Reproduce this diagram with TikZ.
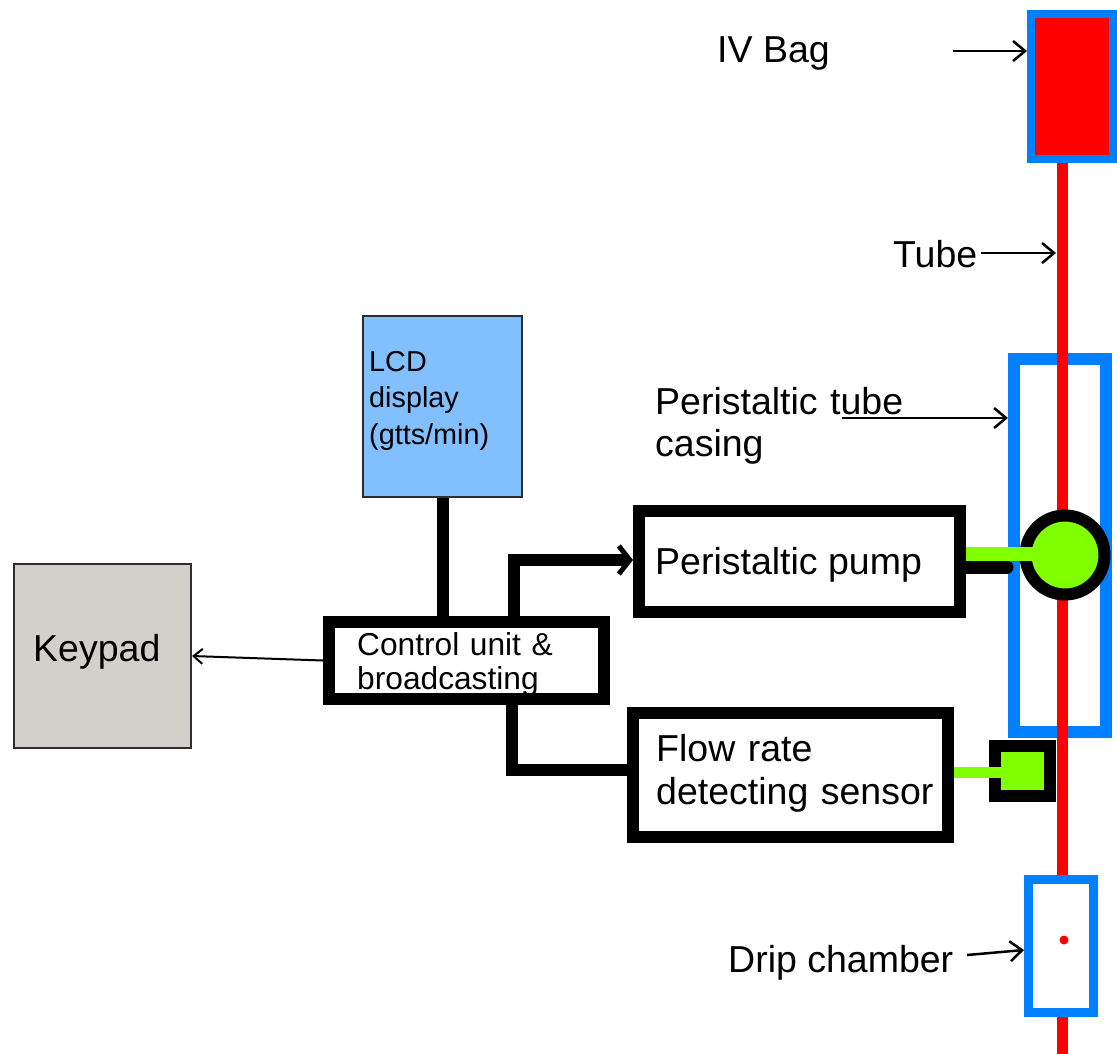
\documentclass[tikz,border=0pt]{standalone}
\usepackage{fontspec}
\setmainfont{Liberation Sans}
\usetikzlibrary{arrows.meta}
\definecolor{bblue}{RGB}{0,128,255}
\definecolor{rred}{RGB}{255,0,0}
\definecolor{ggreen}{RGB}{128,255,0}
\definecolor{lcdblue}{RGB}{130,191,255}
\definecolor{keygray}{RGB}{211,208,203}
\definecolor{edgegray}{RGB}{45,45,45}
\begin{document}
\begin{tikzpicture}[x=1pt,y=-1pt,
  box/.style={draw=black, line width=12pt, fill=white, rectangle, inner sep=0pt},
  plainbox/.style={draw=edgegray, line width=2pt, rectangle, inner sep=0pt},
  bluebox/.style={draw=bblue, rectangle, inner sep=0pt},
  txt/.style={inner sep=0pt, anchor=base west, text=black},
  big/.style={font=\fontsize{37.5}{40}\selectfont},
  wire/.style={draw=black, line width=12pt},
  greenwire/.style={draw=ggreen},
  ann/.style={draw=black, line width=2.5pt, -{Straight Barb[length=12pt,width=20pt]}},
  tube/.style={draw=rred, line width=11pt},
]
\useasboundingbox (0,0) rectangle (1117,1053);

% peristaltic tube casing
\node[bluebox, line width=12pt, minimum width=92pt, minimum height=373pt] (casing) at (1060,545.5) {};
% tube
\coordinate (tubetop) at (1062,150);
\coordinate (tubebot) at (1062,1060);
\draw[tube] (tubetop) -- (tubebot);
% drip chamber
\node[bluebox, line width=9pt, fill=white, minimum width=65pt, minimum height=133pt] (drip) at (1061,946) {};
\node[circle, fill=rred, minimum size=9pt, inner sep=0pt] (drop) at (1064,940) {};
% IV bag
\node[bluebox, line width=8pt, fill=rred, minimum width=82pt, minimum height=145pt] (bag) at (1072,86.5) {};
% flow sensor head
\node[draw=black, line width=12pt, fill=ggreen, rectangle, minimum width=55pt, minimum height=50pt, inner sep=0pt] (sensor) at (1022.5,771) {};

% blocks
\node[box, minimum width=321pt, minimum height=101pt] (pump) at (799.5,561.5) {};
\node[box, minimum width=315pt, minimum height=124pt] (flow) at (790.5,775) {};
\node[box, minimum width=275pt, minimum height=77pt] (ctrl) at (466.5,660.5) {};
\node[plainbox, fill=lcdblue, minimum width=159pt, minimum height=181pt] (lcd) at (442.5,406.5) {};
\node[plainbox, fill=keygray, minimum width=177pt, minimum height=184pt] (keypad) at (102.5,656) {};

% rotor
\coordinate (rotorstub) at (1007,567);
\draw[wire, line width=13pt, line cap=round] (rotorstub -| pump.east) -- (rotorstub);
\node[circle, draw=black, line width=12pt, fill=ggreen, minimum size=79pt, inner sep=0pt] (rotor) at (1065,555) {};
\coordinate (g1) at (1065,554);
\draw[greenwire, line width=14pt] (g1 -| pump.east) -- (g1);
\coordinate (g2) at (1022.5,772);
\draw[greenwire, line width=11pt] (g2 -| flow.east) -- (g2);

% wires
\coordinate (b1) at (514,560);
\draw[wire, -{Straight Barb[length=11pt,width=28pt,line width=5pt]}] (b1 |- ctrl.north) -- (b1) -- (b1 -| pump.west);
\coordinate (b2) at (512,770);
\draw[wire] (b2 |- ctrl.south) -- (b2) -- (b2 -| flow.west);
\draw[wire] (lcd.south) -- (lcd.south |- ctrl.north);
\draw[draw=black, line width=2pt, -{Straight Barb[length=9pt,width=15pt]}] (ctrl.west) -- (keypad.east);

% texts
\node[txt, big] (tIV) at (717,62) {IV Bag};
\node[txt, big] (tTube) at (893,267) {Tube};
\node[txt, font=\fontsize{37.5}{42}\selectfont, text width=300pt, align=left] (tCas) at (655,414) {Peristaltic tube\\casing};
\node[txt, big] (tDrip) at (728,972) {Drip chamber};
\node[txt, big] (tKey) at (33,661) {Keypad};
\node[txt, font=\fontsize{31.7}{34}\selectfont, text width=260pt, align=left] (tCtrl) at (357,655) {Control unit \&\\broadcasting};
\node[txt, font=\fontsize{28.8}{36.5}\selectfont, text width=150pt, align=left] (tLcd) at (369,371) {LCD\\display\\(gtts/min)};
\node[txt, big] (tPump) at (655,574) {Peristaltic pump};
\node[txt, font=\fontsize{37.5}{43}\selectfont, text width=300pt, align=left] (tFlow) at (656,761) {Flow rate\\detecting sensor};

% annotation arrows
\coordinate (a1) at (953,51);
\draw[ann] (a1) -- (a1 -| bag.west);
\coordinate (a2) at (981,253);
\coordinate (a2e) at (1056,253);
\draw[ann] (a2) -- (a2e);
\coordinate (a3) at (842,418);
\draw[ann] (a3) -- (a3 -| casing.west);
\coordinate (a4) at (967,955);
\draw[ann] (a4) -- ([yshift=-4pt]drip.west);
\end{tikzpicture}
\end{document}
